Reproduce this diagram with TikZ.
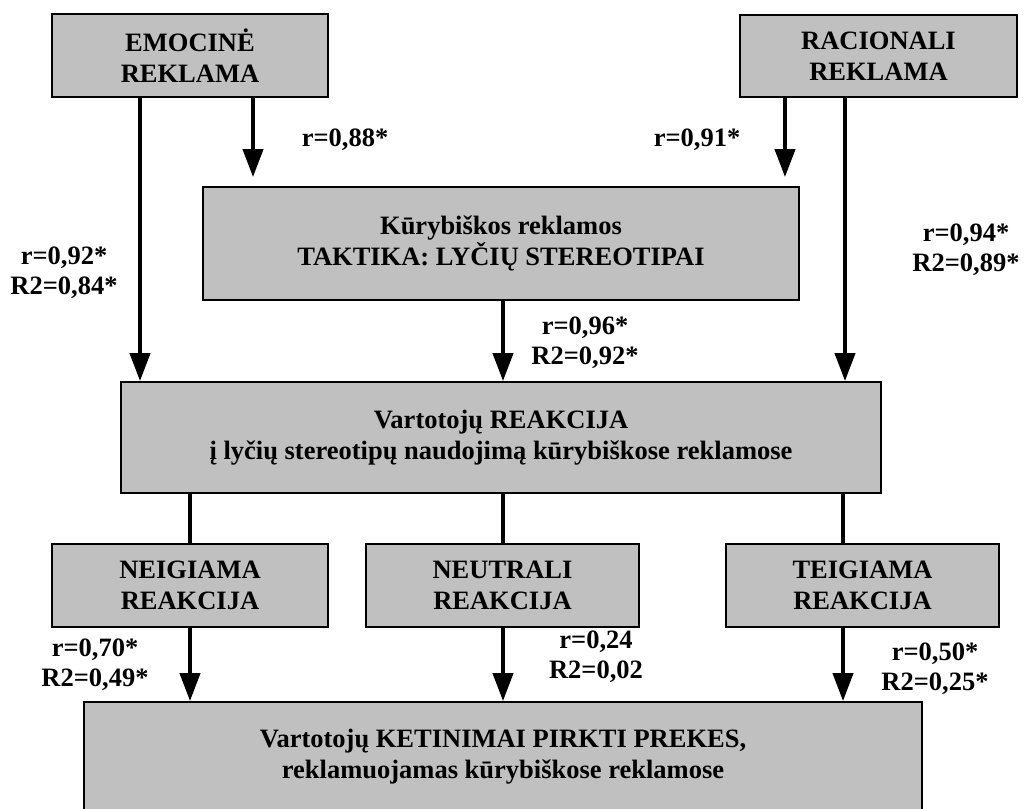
\documentclass[tikz,border=0pt]{standalone}
\usepackage{fontspec}
\setmainfont{Liberation Serif}
\usetikzlibrary{arrows.meta}
\tikzset{
  box/.style={draw=black, line width=1.8pt, fill=boxgray, rectangle, align=center, inner sep=0pt,
    font=\fontsize{26.5}{31}\selectfont\bfseries},
  lbl/.style={align=center, inner sep=0pt, font=\fontsize{26.5}{30}\selectfont\bfseries},
  arr/.style={line width=4pt, -{Triangle[width=20pt,length=28pt]}},
  conn/.style={line width=4pt},
}
\definecolor{boxgray}{HTML}{C0C0C0}
\begin{document}
\begin{tikzpicture}[x=1pt,y=-1pt]
\useasboundingbox (0,0) rectangle (1029,809);
\clip (0,0) rectangle (1029,809);
% boxes
\node[box, minimum width=276pt, minimum height=83pt] (emo) at (190,55.5) {EMOCINĖ\\REKLAMA};
\node[box, minimum width=277pt, minimum height=82pt] (rac) at (878.5,56) {RACIONALI\\REKLAMA};
\node[box, minimum width=596pt, minimum height=113pt] (kur) at (501,243.5) {Kūrybiškos reklamos\\TAKTIKA: LYČIŲ STEREOTIPAI};
\node[box, minimum width=760pt, minimum height=111pt] (reak) at (501,437.5) {Vartotojų REAKCIJA\\į lyčių stereotipų naudojimą kūrybiškose reklamose};
\node[box, minimum width=276pt, minimum height=83pt] (neig) at (190,585.5) {NEIGIAMA\\REAKCIJA};
\node[box, minimum width=273pt, minimum height=83pt] (neut) at (502.5,585.5) {NEUTRALI\\REAKCIJA};
\node[box, minimum width=273pt, minimum height=83pt] (teig) at (862.5,585.5) {TEIGIAMA\\REAKCIJA};
\node[box, minimum width=838pt, minimum height=110pt] (ket) at (503,757) {Vartotojų KETINIMAI PIRKTI PREKES,\\reklamuojamas kūrybiškose reklamose};
% x positions of connectors
\coordinate (xa) at (140,0);
\coordinate (xb) at (253,0);
\coordinate (xc) at (785,0);
\coordinate (xd) at (845,0);
\coordinate (xe) at (190,0);
\coordinate (xf) at (503,0);
\coordinate (xg) at (843,0);
% connectors
\draw[arr] (emo.south -| xa) -- (reak.north -| xa);
\draw[arr, shorten >=9pt] (emo.south -| xb) -- (kur.north -| xb);
\draw[arr, shorten >=9pt] (rac.south -| xc) -- (kur.north -| xc);
\draw[arr] (rac.south -| xd) -- (reak.north -| xd);
\draw[arr] (kur.south -| xf) -- (reak.north -| xf);
\draw[conn] (reak.south -| xe) -- (neig.north -| xe);
\draw[conn] (reak.south -| xf) -- (neut.north -| xf);
\draw[conn] (reak.south -| xg) -- (teig.north -| xg);
\draw[arr] (neig.south -| xe) -- (ket.north -| xe);
\draw[arr] (neut.south -| xf) -- (ket.north -| xf);
\draw[arr] (teig.south -| xg) -- (ket.north -| xg);
% labels
\node[lbl] (l1) at (345,140) {r=0,88*};
\node[lbl] (l2) at (697,140) {r=0,91*};
\node[lbl] (l3) at (64,273) {r=0,92*\\R2=0,84*};
\node[lbl] (l4) at (966,250) {r=0,94*\\R2=0,89*};
\node[lbl] (l5) at (585,342.5) {r=0,96*\\R2=0,92*};
\node[lbl] (l6) at (95,665) {r=0,70*\\R2=0,49*};
\node[lbl] (l7) at (596,657) {r=0,24\\R2=0,02};
\node[lbl] (l8) at (935,669) {r=0,50*\\R2=0,25*};
\end{tikzpicture}
\end{document}
